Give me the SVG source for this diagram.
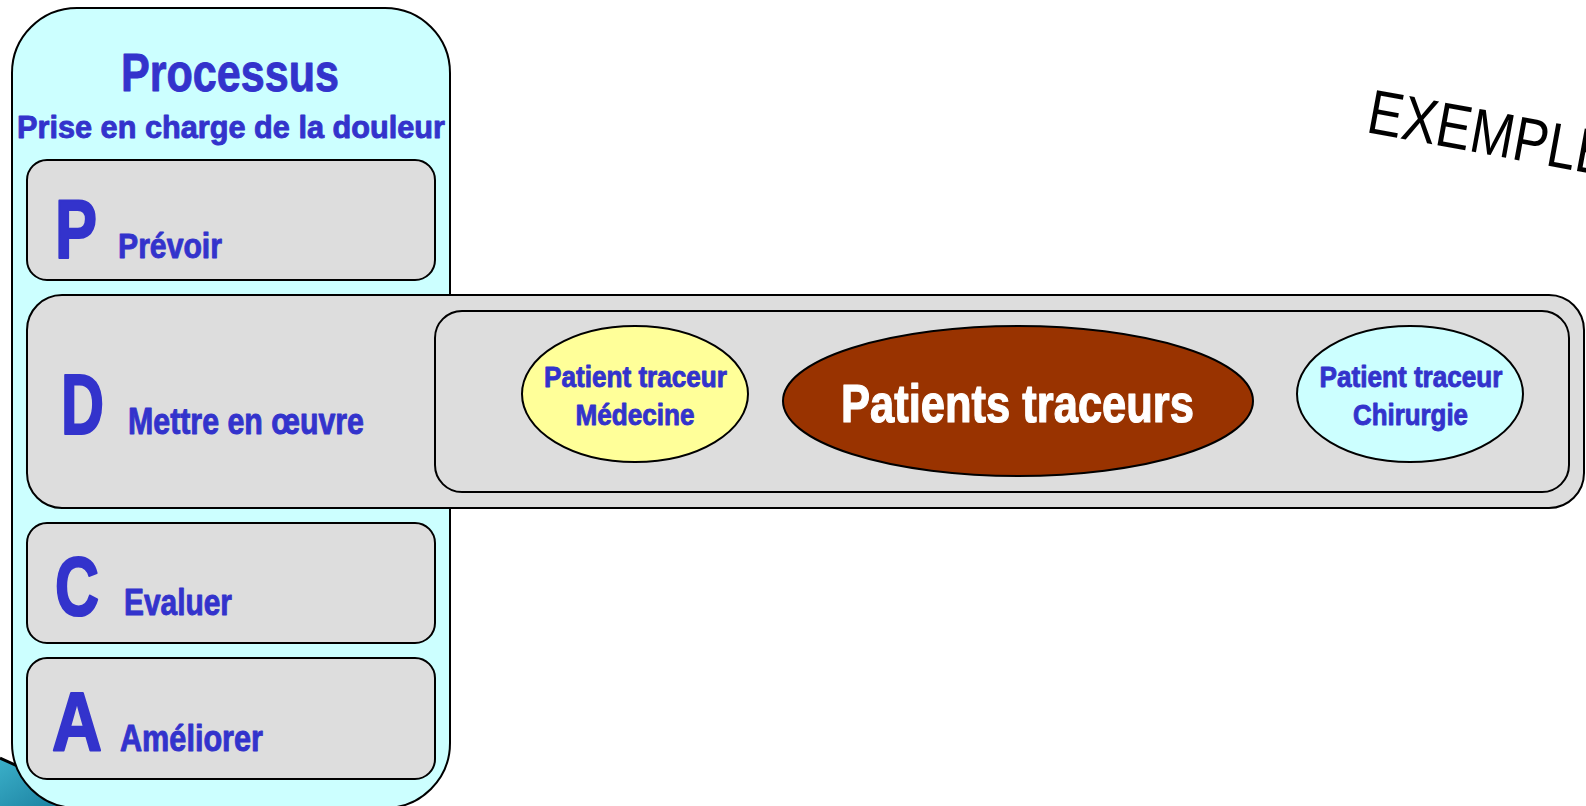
<svg xmlns="http://www.w3.org/2000/svg" width="1586" height="806" viewBox="0 0 1586 806">
<style>
.box{stroke:#000;stroke-width:2}
.cyan{fill:#CCFFFF}
.gray{fill:#DDDDDD}
.t{font-family:"Liberation Sans",Arial,sans-serif;font-weight:bold;fill:#3333CC;stroke:#3333CC;stroke-width:0.9;stroke-linejoin:round}
.big{stroke-width:2.2}
.w{fill:#FFFFFF;stroke:#FFFFFF;stroke-width:1.2}
.m{text-anchor:middle}
</style>
<defs>
<linearGradient id="teal" x1="0" y1="0" x2="1" y2="1">
<stop offset="0" stop-color="#3BB0C9"/>
<stop offset="1" stop-color="#1A7E9E"/>
</linearGradient>
</defs>
<g id="swoosh">
<path d="M0,758 L70,790 L70,806 L0,806 Z" fill="url(#teal)"/>
<path d="M0,758 L50,781" stroke="#000" stroke-width="3" fill="none"/>
</g>
<g id="processus">
<rect class="box cyan" x="12" y="8" width="438" height="800" rx="65"/>
<text class="t m" x="230" y="91" font-size="53" stroke-width="1.4" textLength="218" lengthAdjust="spacingAndGlyphs">Processus</text>
<text class="t m" x="231" y="138" font-size="32" textLength="428" lengthAdjust="spacingAndGlyphs">Prise en charge de la douleur</text>
</g>
<g id="prevoir">
<rect class="box gray" x="27" y="160" width="408" height="120" rx="20"/>
<text class="t big" x="55" y="258" font-size="84" textLength="42" lengthAdjust="spacingAndGlyphs">P</text>
<text class="t" x="118" y="258" font-size="35" textLength="104" lengthAdjust="spacingAndGlyphs">Prévoir</text>
</g>
<g id="evaluer">
<rect class="box gray" x="27" y="523" width="408" height="120" rx="20"/>
<text class="t big" x="55" y="615" font-size="84" textLength="44" lengthAdjust="spacingAndGlyphs">C</text>
<text class="t" x="124" y="615" font-size="36" textLength="108" lengthAdjust="spacingAndGlyphs">Evaluer</text>
</g>
<g id="ameliorer">
<rect class="box gray" x="27" y="658" width="408" height="121" rx="20"/>
<text class="t big" x="52" y="751" font-size="84" textLength="50" lengthAdjust="spacingAndGlyphs">A</text>
<text class="t" x="120" y="751" font-size="36" textLength="143" lengthAdjust="spacingAndGlyphs">Améliorer</text>
</g>
<g id="mettre-en-oeuvre">
<rect class="box gray" x="27" y="295" width="1557" height="213" rx="35"/>
<text class="t big" x="61" y="434" font-size="85" textLength="43" lengthAdjust="spacingAndGlyphs">D</text>
<text class="t" x="128" y="434" font-size="36" textLength="236" lengthAdjust="spacingAndGlyphs">Mettre en œuvre</text>
</g>
<g id="patients-traceurs-zone">
<rect class="box gray" x="435" y="311" width="1134" height="181" rx="27"/>
</g>
<g id="pt-medecine">
<ellipse class="box" cx="635" cy="394" rx="113" ry="68" fill="#FFFF99"/>
<text class="t m" x="635.5" y="387" font-size="29" stroke-width="0.7" textLength="183" lengthAdjust="spacingAndGlyphs">Patient traceur</text>
<text class="t m" x="635" y="425" font-size="29" stroke-width="0.7" textLength="119" lengthAdjust="spacingAndGlyphs">Médecine</text>
</g>
<g id="patients-traceurs">
<ellipse class="box" cx="1018" cy="401" rx="235" ry="75" fill="#993300"/>
<text class="t w m" x="1017.5" y="422" font-size="54" textLength="353" lengthAdjust="spacingAndGlyphs">Patients traceurs</text>
</g>
<g id="pt-chirurgie">
<ellipse class="box" cx="1410" cy="394" rx="113" ry="68" fill="#CCFFFF"/>
<text class="t m" x="1411" y="387" font-size="29" stroke-width="0.7" textLength="183" lengthAdjust="spacingAndGlyphs">Patient traceur</text>
<text class="t m" x="1410.5" y="425" font-size="29" stroke-width="0.7" textLength="115" lengthAdjust="spacingAndGlyphs">Chirurgie</text>
</g>
<g id="connectors"/>
<g id="exemple">
<text x="1365" y="132" transform="rotate(10.4 1365 132)" font-family="'Liberation Sans',Arial,sans-serif" font-size="63" fill="#000" textLength="246" lengthAdjust="spacingAndGlyphs">EXEMPLE</text>
</g>
</svg>
